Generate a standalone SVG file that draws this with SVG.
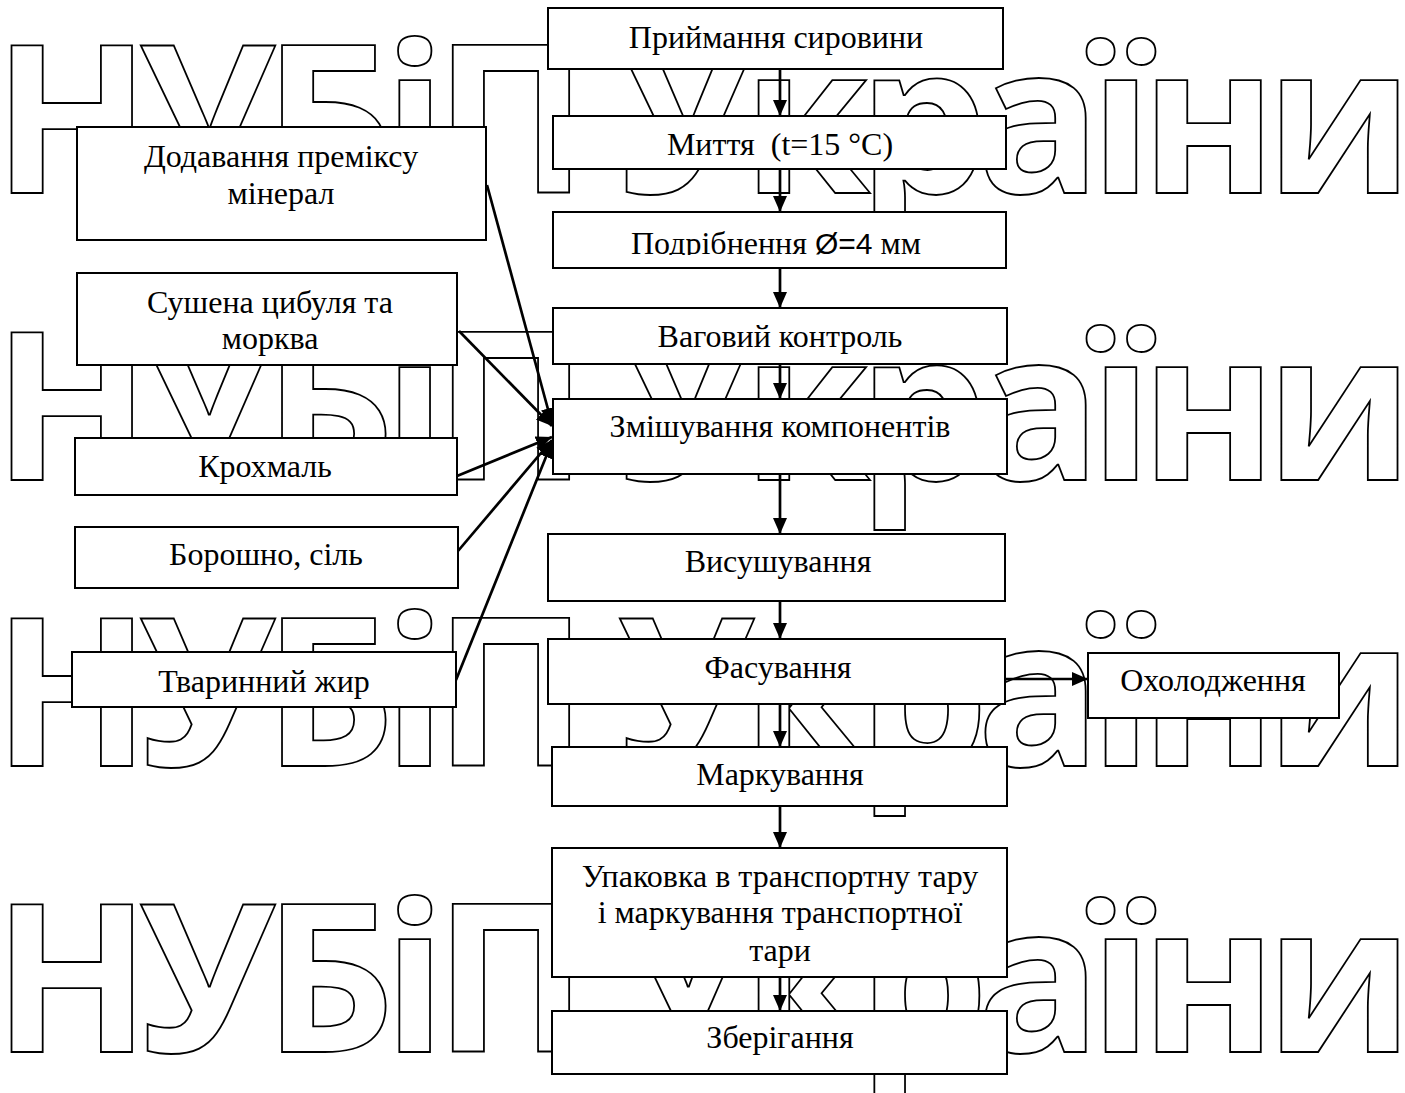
<svg xmlns="http://www.w3.org/2000/svg" width="1405" height="1093" viewBox="0 0 1405 1093">
<style>
.wm{font-family:"Open Sans",sans-serif;font-weight:700;font-size:206px;letter-spacing:-11.8px;fill:none;stroke:#000;stroke-width:1.8}
.box{fill:#fff;stroke:#000;stroke-width:2}
.t{font-family:"Liberation Serif","Times New Roman",serif;font-size:32px;fill:#000;text-anchor:middle}
.s{font-family:"Liberation Sans",Arial,sans-serif;font-size:30px}
.c{stroke:#000;stroke-width:2.7;fill:none}
</style>
<defs>
<marker id="ah" markerWidth="16" markerHeight="14" refX="16" refY="7" orient="auto" markerUnits="userSpaceOnUse">
<path d="M0,0 L16,7 L0,14 z" fill="#000"/>
</marker>
<clipPath id="clipPod"><rect x="553" y="212" width="453" height="43"/></clipPath>
</defs>
<g id="watermark">
<text class="wm" x="-7" y="193">НУБіП України</text>
<text class="wm" x="-7" y="480">НУБіП України</text>
<text class="wm" x="-7" y="766">НУБіП України</text>
<text class="wm" x="-7" y="1052">НУБіП України</text>
</g>
<g id="connectors">
<line class="c" x1="780" y1="69" x2="780" y2="116" marker-end="url(#ah)"/>
<line class="c" x1="780" y1="169" x2="780" y2="212" marker-end="url(#ah)"/>
<line class="c" x1="780" y1="268" x2="780" y2="308" marker-end="url(#ah)"/>
<line class="c" x1="780" y1="364" x2="780" y2="399" marker-end="url(#ah)"/>
<line class="c" x1="780" y1="474" x2="780" y2="534" marker-end="url(#ah)"/>
<line class="c" x1="780" y1="601" x2="780" y2="639" marker-end="url(#ah)"/>
<line class="c" x1="780" y1="704" x2="780" y2="747" marker-end="url(#ah)"/>
<line class="c" x1="780" y1="806" x2="780" y2="848" marker-end="url(#ah)"/>
<line class="c" x1="780" y1="977" x2="780" y2="1011" marker-end="url(#ah)"/>
<line class="c" x1="1006" y1="679" x2="1088" y2="679" marker-end="url(#ah)"/>
<line class="c" x1="487" y1="185" x2="552" y2="424" marker-end="url(#ah)"/>
<line class="c" x1="459" y1="331" x2="552" y2="426" marker-end="url(#ah)"/>
<line class="c" x1="457" y1="476" x2="552" y2="437" marker-end="url(#ah)"/>
<line class="c" x1="458" y1="551" x2="552" y2="440" marker-end="url(#ah)"/>
<line class="c" x1="456" y1="680" x2="552" y2="442" marker-end="url(#ah)"/>
</g>
<g id="n1"><rect class="box" x="548" y="8" width="455" height="61"/><text class="t" x="776" y="48">Приймання сировини</text></g>
<g id="n2"><rect class="box" x="553" y="116" width="453" height="53"/><text class="t" x="780" y="155">Миття&#160; (t=15 °C)</text></g>
<g id="n3"><rect class="box" x="553" y="212" width="453" height="56"/><text class="t" x="776" y="254" clip-path="url(#clipPod)">Подрібнення <tspan class="s">Ø=4</tspan> мм</text></g>
<g id="n4"><rect class="box" x="553" y="308" width="454" height="56"/><text class="t" x="780" y="347">Ваговий контроль</text></g>
<g id="n5"><rect class="box" x="553" y="399" width="454" height="75"/><text class="t" x="780" y="437">Змішування компонентів</text></g>
<g id="n6"><rect class="box" x="548" y="534" width="457" height="67"/><text class="t" x="778" y="572">Висушування</text></g>
<g id="n7"><rect class="box" x="548" y="639" width="457" height="65"/><text class="t" x="778" y="678">Фасування</text></g>
<g id="n8"><rect class="box" x="1088" y="653" width="251" height="65"/><text class="t" x="1213" y="691">Охолодження</text></g>
<g id="n9"><rect class="box" x="552" y="747" width="455" height="59"/><text class="t" x="780" y="785">Маркування</text></g>
<g id="n10"><rect class="box" x="552" y="848" width="455" height="129"/><text class="t" x="780" y="887">Упаковка в транспортну тару</text><text class="t" x="780" y="923">і маркування транспортної</text><text class="t" x="780" y="961">тари</text></g>
<g id="n11"><rect class="box" x="552" y="1011" width="455" height="63"/><text class="t" x="780" y="1048">Зберігання</text></g>
<g id="n12"><rect class="box" x="77" y="127" width="409" height="113"/><text class="t" x="281" y="167">Додавання преміксу</text><text class="t" x="281" y="204">мінерал</text></g>
<g id="n13"><rect class="box" x="77" y="273" width="380" height="92"/><text class="t" x="270" y="313">Сушена цибуля та</text><text class="t" x="270" y="349">морква</text></g>
<g id="n14"><rect class="box" x="75" y="438" width="382" height="57"/><text class="t" x="265" y="477">Крохмаль</text></g>
<g id="n15"><rect class="box" x="75" y="527" width="383" height="61"/><text class="t" x="266" y="565">Борошно, сіль</text></g>
<g id="n16"><rect class="box" x="72" y="652" width="384" height="55"/><text class="t" x="264" y="692">Тваринний жир</text></g>
</svg>
